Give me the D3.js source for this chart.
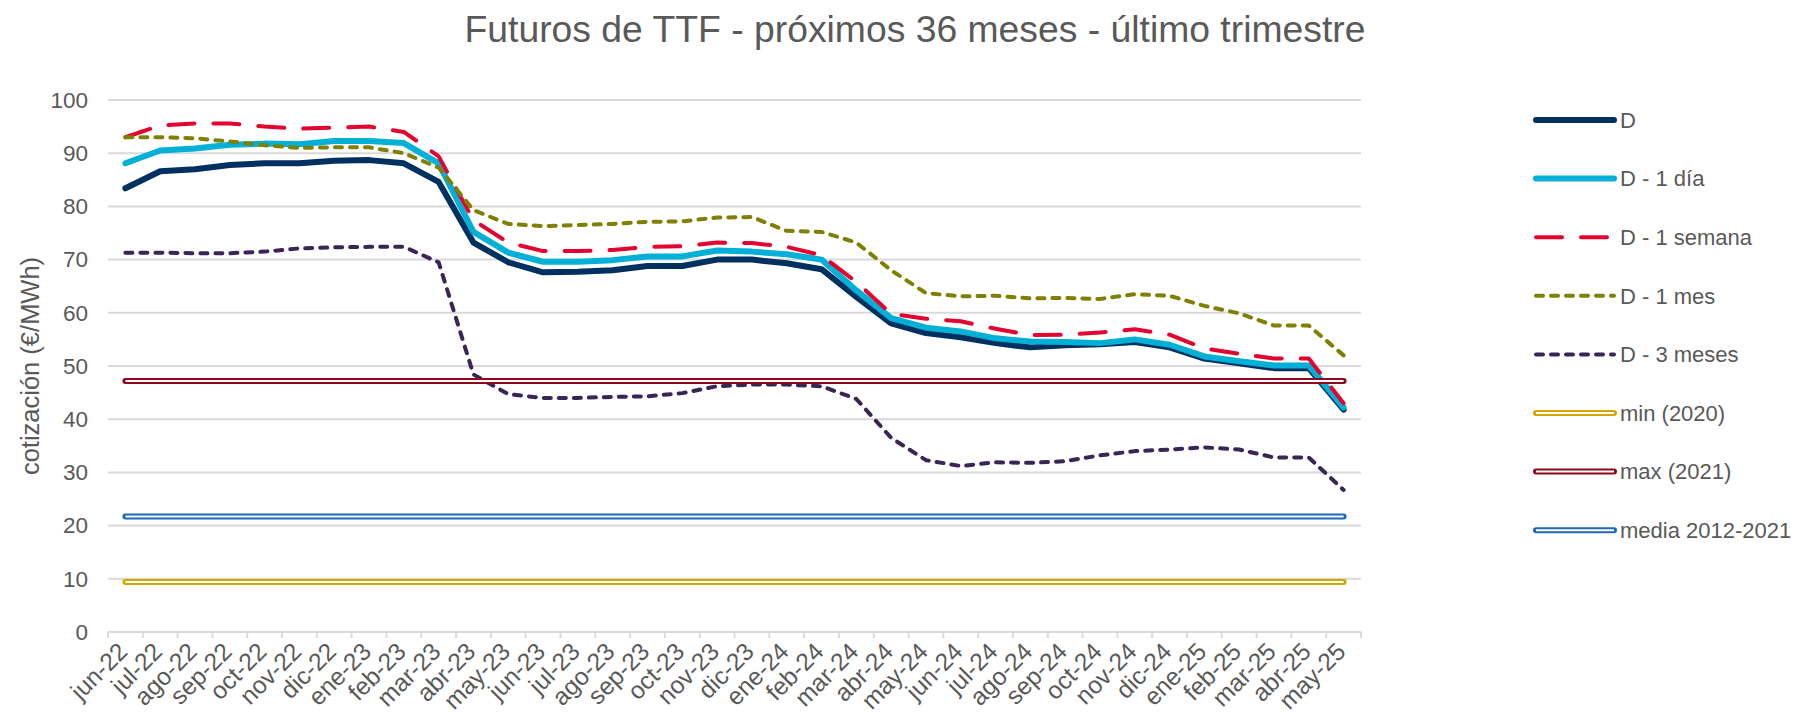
<!DOCTYPE html>
<html>
<head>
<meta charset="utf-8">
<script src="https://cdn.jsdelivr.net/npm/d3@7"></script>
<style>
  body { margin: 0; background: #fff; }
  text { font-family: "Liberation Sans", Arial, sans-serif; fill: #595959; }
</style>
</head>
<body>
<div id="chart"></div>
<script>
// Data
var months = ["jun-22","jul-22","ago-22","sep-22","oct-22","nov-22","dic-22","ene-23","feb-23","mar-23","abr-23","may-23",
  "jun-23","jul-23","ago-23","sep-23","oct-23","nov-23","dic-23","ene-24","feb-24","mar-24","abr-24","may-24",
  "jun-24","jul-24","ago-24","sep-24","oct-24","nov-24","dic-24","ene-25","feb-25","mar-25","abr-25","may-25"];

var serieD = [83.4, 86.6, 87.0, 87.8, 88.1, 88.1, 88.6, 88.7, 88.1, 84.6, 73.2, 69.5,
  67.6, 67.7, 68.0, 68.8, 68.8, 70.0, 70.0, 69.3, 68.2, 63.0, 58.0, 56.2,
  55.4, 54.3, 53.5, 53.9, 54.1, 54.5, 53.5, 51.4, 50.5, 49.6, 49.6, 41.8];
var serieDia = [88.1, 90.5, 90.9, 91.6, 91.8, 91.7, 92.3, 92.3, 91.9, 88.1, 75.2, 71.3,
  69.6, 69.6, 69.9, 70.6, 70.6, 71.7, 71.5, 71.0, 70.0, 64.2, 59.0, 57.2,
  56.5, 55.2, 54.6, 54.5, 54.3, 55.0, 54.0, 51.8, 50.9, 50.1, 50.1, 42.2];
var serieSemana = [93.0, 95.2, 95.6, 95.6, 95.0, 94.6, 94.8, 95.0, 94.0, 89.4, 77.4, 73.2,
  71.6, 71.6, 71.8, 72.4, 72.5, 73.2, 73.1, 72.4, 70.8, 65.8, 59.8, 58.9,
  58.4, 57.0, 55.8, 55.9, 56.3, 56.9, 55.9, 53.3, 52.3, 51.4, 51.4, 43.0];
var serieMes = [93.0, 93.0, 92.8, 92.2, 91.5, 91.0, 91.1, 91.1, 90.0, 87.3, 79.3, 76.7,
  76.3, 76.5, 76.7, 77.1, 77.2, 77.9, 78.0, 75.4, 75.2, 73.2, 68.0, 63.7,
  63.1, 63.2, 62.7, 62.8, 62.6, 63.5, 63.2, 61.3, 59.9, 57.6, 57.6, 52.0];
var serieTres = [71.3, 71.3, 71.2, 71.2, 71.5, 72.1, 72.3, 72.4, 72.4, 69.5, 48.4, 44.7,
  44.0, 44.0, 44.2, 44.3, 44.9, 46.2, 46.5, 46.5, 46.2, 43.8, 36.5, 32.3,
  31.2, 31.9, 31.8, 32.1, 33.2, 34.0, 34.3, 34.7, 34.3, 32.8, 32.8, 26.7];
var minVal = 9.4;    // min (2020)
var maxVal = 47.2;   // max (2021)
var mediaVal = 21.7; // media 2012-2021
var yTicks = [0, 10, 20, 30, 40, 50, 60, 70, 80, 90, 100];

var svgWidth = 1798;
var svgHeight = 716;
var margin = { top: 100, right: 437, bottom: 84, left: 108 };
var width = svgWidth - margin.left - margin.right;
var height = svgHeight - margin.top - margin.bottom;

var svg = d3.select("#chart")
  .append("svg")
  .attr("width", svgWidth)
  .attr("height", svgHeight);

var chartGroup = svg.append("g")
  .attr("transform", `translate(${margin.left}, ${margin.top})`);

// scales
var xBand = d3.scaleBand().domain(months).range([0, width]);
var xPos = d => xBand(d) + xBand.bandwidth() / 2;
var yScale = d3.scaleLinear().domain([0, 100]).range([height, 0]);

// gridlines
chartGroup.selectAll(".grid")
  .data(yTicks)
  .enter()
  .append("line")
  .attr("x1", 0)
  .attr("x2", width)
  .attr("y1", d => yScale(d))
  .attr("y2", d => yScale(d))
  .attr("stroke", "#d9d9d9")
  .attr("stroke-width", 2);

// category tick marks on the x axis (at band boundaries)
chartGroup.selectAll(".xtick")
  .data(months.concat(["end"]))
  .enter()
  .append("line")
  .attr("x1", (d, i) => i * xBand.step())
  .attr("x2", (d, i) => i * xBand.step())
  .attr("y1", height)
  .attr("y2", height + 6)
  .attr("stroke", "#d9d9d9")
  .attr("stroke-width", 2);

// y axis labels
var leftAxis = d3.axisLeft(yScale).tickValues(yTicks).tickSize(0).tickPadding(20);
var yAxisG = chartGroup.append("g").call(leftAxis);
yAxisG.select(".domain").remove();
yAxisG.selectAll("text")
  .style("font-size", "22.5px")
  .style("font-family", "Liberation Sans, Arial, sans-serif")
  .attr("fill", "#595959");

// x axis labels
var bottomAxis = d3.axisBottom(xBand).tickSize(0);
var xAxisG = chartGroup.append("g")
  .attr("transform", `translate(0, ${height})`)
  .call(bottomAxis);
xAxisG.select(".domain").remove();
xAxisG.selectAll("text")
  .style("font-size", "24.5px")
  .style("font-family", "Liberation Sans, Arial, sans-serif")
  .attr("fill", "#595959")
  .style("text-anchor", "end")
  .attr("dx", "0")
  .attr("dy", "0")
  .attr("y", 0)
  .attr("transform", "translate(3.5, 21) rotate(-45)");

var line = d3.line()
  .x((d, i) => xPos(months[i]))
  .y(d => yScale(d));

var seriesList = [
  { name: "D", values: serieD, color: "#00305f", width: 6, dash: null },
  { name: "D - 1 día", values: serieDia, color: "#00b0d6", width: 6, dash: null },
  { name: "D - 1 semana", values: serieSemana, color: "#e4032e", width: 4, dash: "26,19" },
  { name: "D - 1 mes", values: serieMes, color: "#7f8000", width: 4, dash: "7,8" },
  { name: "D - 3 meses", values: serieTres, color: "#3b2556", width: 4, dash: "7,8" }
];

var refList = [
  { name: "min (2020)", value: minVal, color: "#d0a800" },
  { name: "max (2021)", value: maxVal, color: "#8b0a1e" },
  { name: "media 2012-2021", value: mediaVal, color: "#1f68b8" }
];

seriesList.forEach(function(s) {
  chartGroup.append("path")
    .datum(s.values)
    .attr("d", line)
    .attr("fill", "none")
    .attr("stroke", s.color)
    .attr("stroke-width", s.width)
    .attr("stroke-linecap", "round")
    .attr("stroke-linejoin", "round")
    .attr("stroke-dasharray", s.dash);
});

// double-line reference series
refList.forEach(function(r) {
  var vals = months.map(() => r.value);
  chartGroup.append("path")
    .datum(vals)
    .attr("d", line)
    .attr("fill", "none")
    .attr("stroke", r.color)
    .attr("stroke-width", 6)
    .attr("stroke-linecap", "round");
  chartGroup.append("path")
    .datum(vals)
    .attr("d", line)
    .attr("fill", "none")
    .attr("stroke", "#fff")
    .attr("stroke-width", 2);
});

// title
svg.append("text")
  .attr("x", 915)
  .attr("y", 42)
  .attr("text-anchor", "middle")
  .style("font-size", "37.3px")
  .text("Futuros de TTF - próximos 36 meses - último trimestre");

// y axis title
svg.append("text")
  .attr("transform", `translate(39, ${margin.top + height / 2}) rotate(-90)`)
  .attr("text-anchor", "middle")
  .style("font-size", "25.5px")
  .text("cotización (€/MWh)");

// legend
var legend = svg.append("g").attr("transform", "translate(1534, 120)");
var legendItems = seriesList.map(s => ({ name: s.name, color: s.color, width: s.width, dash: s.dash, ref: false }))
  .concat(refList.map(r => ({ name: r.name, color: r.color, ref: true })));

legendItems.forEach(function(item, i) {
  var g = legend.append("g").attr("transform", `translate(0, ${i * 58.6})`);
  if (item.ref) {
    g.append("line").attr("x1", 2).attr("x2", 80).attr("y1", 0).attr("y2", 0)
      .attr("stroke", item.color).attr("stroke-width", 6).attr("stroke-linecap", "round");
    g.append("line").attr("x1", 2).attr("x2", 80).attr("y1", 0).attr("y2", 0)
      .attr("stroke", "#fff").attr("stroke-width", 2);
  } else {
    g.append("line").attr("x1", 2).attr("x2", 80).attr("y1", 0).attr("y2", 0)
      .attr("stroke", item.color).attr("stroke-width", item.width)
      .attr("stroke-linecap", "round")
      .attr("stroke-dasharray", item.dash);
  }
  g.append("text")
    .attr("x", 86)
    .attr("y", 0)
    .attr("dy", "0.35em")
    .style("font-size", "22px")
    .text(item.name);
});
</script>
</body>
</html>
